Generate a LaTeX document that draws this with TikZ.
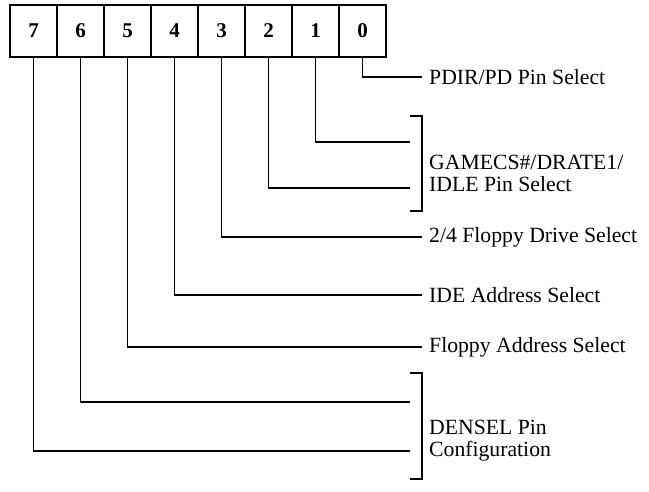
\documentclass[tikz,border=0pt]{standalone}
\usepackage{fontspec}
\setmainfont{Liberation Serif}
\usepackage{tikz}

\begin{document}
\begin{tikzpicture}[
    x=1pt, y=-1pt,
    bit/.style={rectangle, draw=black, line width=1.8pt, minimum width=47pt, minimum height=52pt, inner sep=0pt, font=\fontsize{21}{24}\selectfont\bfseries},
    desc/.style={anchor=west, inner sep=0pt, align=left, font=\fontsize{21.7}{22}\selectfont},
    wire/.style={line width=1.8pt}
]
    \useasboundingbox (0,0) rectangle (649,491);

    % Register bits
    \node[bit] (b7) at (33.5, 31) {7};
    \node[bit] (b6) at (80.5, 31) {6};
    \node[bit] (b5) at (127.5, 31) {5};
    \node[bit] (b4) at (174.5, 31) {4};
    \node[bit] (b3) at (221.5, 31) {3};
    \node[bit] (b2) at (268.5, 31) {2};
    \node[bit] (b1) at (315.5, 31) {1};
    \node[bit] (b0) at (362.5, 31) {0};

    % Field descriptions
    \node[desc] (pdir) at (429, 77) {PDIR/PD Pin Select};
    \node[desc] (game) at (429, 173) {GAMECS\#/DRATE1/\\IDLE Pin Select};
    \node[desc] (drive) at (429, 237) {2/4 Floppy Drive Select};
    \node[desc] (ide) at (429, 295) {IDE Address Select};
    \node[desc] (fdc) at (429, 347) {Floppy Address Select};
    \node[desc] (densel) at (429, 441) {DENSEL Pin\\Configuration};

    % Bracket ends
    \coordinate (gtop) at (422, 116);
    \coordinate (gbot) at (422, 211);
    \coordinate (dtop) at (422, 373);
    \coordinate (dbot) at (422, 479);
    \coordinate (e1) at (410, 142);
    \coordinate (e2) at (410, 188);
    \coordinate (e6) at (410, 402);
    \coordinate (e7) at (410, 451);

    % Single bit fields
    \draw[wire] (b0.south) |- ([xshift=-7pt]pdir.west);
    \draw[wire] (b3.south) |- ([xshift=-7pt]drive.west);
    \draw[wire] (b4.south) |- ([xshift=-7pt]ide.west);
    \draw[wire] (b5.south) |- ([xshift=-7pt]fdc.west);

    % Grouped fields
    \draw[wire] (b1.south) |- (e1);
    \draw[wire] (b2.south) |- (e2);
    \draw[wire] ([xshift=-12pt]gtop) -- (gtop) -- (gbot) -- ([xshift=-12pt]gbot);
    \draw[wire] (b6.south) |- (e6);
    \draw[wire] (b7.south) |- (e7);
    \draw[wire] ([xshift=-12pt]dtop) -- (dtop) -- (dbot) -- ([xshift=-12pt]dbot);

\end{tikzpicture}
\end{document}
